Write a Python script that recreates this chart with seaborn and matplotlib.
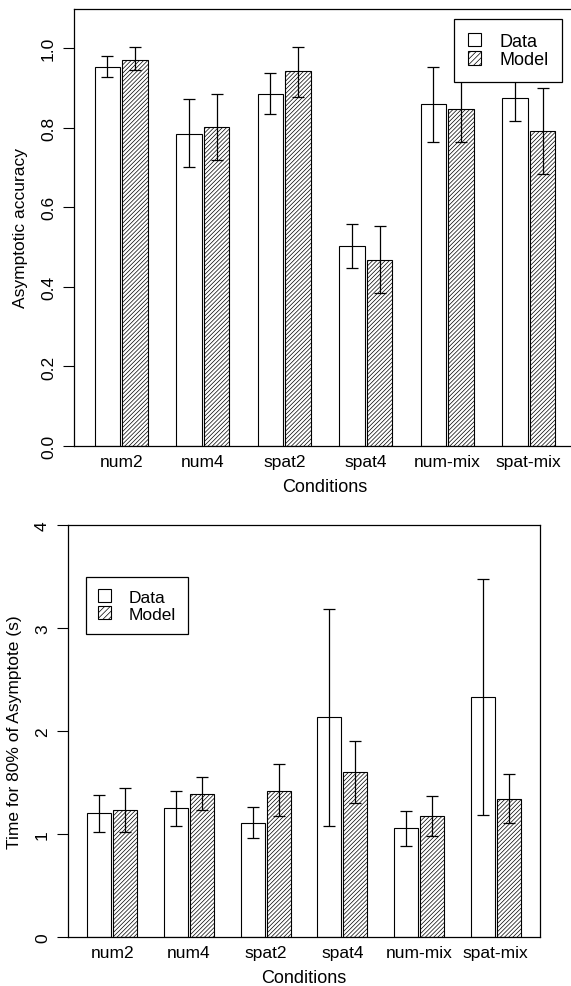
import matplotlib
matplotlib.use("Agg")
import matplotlib.pyplot as plt
import seaborn as sns
import pandas as pd
from matplotlib.patches import Patch

conditions = ["num2", "num4", "spat2", "spat4", "num-mix", "spat-mix"]

# asymptotic accuracy (top panel)
acc_data = [0.953, 0.785, 0.885, 0.503, 0.860, 0.875]
acc_data_lo = [0.928, 0.702, 0.835, 0.448, 0.765, 0.818]
acc_data_hi = [0.981, 0.873, 0.939, 0.558, 0.953, 0.928]
acc_model = [0.971, 0.803, 0.943, 0.468, 0.848, 0.792]
acc_model_lo = [0.946, 0.719, 0.878, 0.385, 0.765, 0.684]
acc_model_hi = [1.004, 0.885, 1.004, 0.553, 0.928, 0.901]

# time to 80% of asymptote (bottom panel)
t_data = [1.20, 1.25, 1.11, 2.14, 1.06, 2.33]
t_data_lo = [1.02, 1.08, 0.96, 1.08, 0.88, 1.18]
t_data_hi = [1.38, 1.42, 1.26, 3.18, 1.22, 3.48]
t_model = [1.23, 1.39, 1.42, 1.60, 1.17, 1.34]
t_model_lo = [1.02, 1.23, 1.17, 1.30, 0.98, 1.11]
t_model_hi = [1.45, 1.55, 1.68, 1.90, 1.37, 1.58]

sns.set_style("ticks")
plt.rcParams["font.family"] = ["Liberation Sans", "DejaVu Sans"]
plt.rcParams["hatch.linewidth"] = 0.5
plt.rcParams["text.color"] = "black"
plt.rcParams["axes.labelcolor"] = "black"
plt.rcParams["xtick.color"] = "black"
plt.rcParams["ytick.color"] = "black"

W, H = 571, 987
fig = plt.figure(figsize=(W / 100, H / 100), dpi=100)


def px_axes(left, top, right, bottom):
    return fig.add_axes([left / W, 1 - bottom / H, (right - left) / W, (bottom - top) / H])


def draw_panel(ax, data, data_lo, data_hi, model, model_lo, model_hi, ylim, yticks, yticklabels, ylabel):
    df = pd.DataFrame({
        "condition": conditions * 2,
        "source": ["Data"] * 6 + ["Model"] * 6,
        "value": data + model,
    })
    lo = data_lo + model_lo
    hi = data_hi + model_hi
    sns.barplot(
        data=df, x="condition", y="value", hue="source",
        palette=["white", "white"], edgecolor="black", linewidth=0.8,
        width=0.68, gap=0.08, errorbar=None, legend=False, ax=ax,
    )
    bar_conts = list(ax.containers)
    k = 0
    for ci, cont in enumerate(bar_conts):
        for bar in cont.patches:
            if ci == 1:
                bar.set_hatch("////////")
            xc = bar.get_x() + bar.get_width() / 2
            v = bar.get_height()
            ax.errorbar([xc], [v], yerr=[[v - lo[k]], [hi[k] - v]], fmt="none",
                        ecolor="black", elinewidth=0.9, capsize=4.5, capthick=0.9)
            k += 1
    ax.set_xlim(-0.58, 5.58)
    ax.set_ylim(*ylim)
    ax.set_yticks(yticks)
    ax.set_yticklabels(yticklabels, rotation=90, va="center")
    ax.tick_params(axis="y", length=8, width=0.8, labelsize=12.5, pad=5, colors="black")
    ax.tick_params(axis="x", length=0, labelsize=12.5, pad=6, colors="black")
    ax.set_xlabel("Conditions", fontsize=13, labelpad=6, color="black")
    ax.set_ylabel(ylabel, fontsize=12.5, labelpad=9, color="black")
    for s in ax.spines.values():
        s.set_linewidth(0.9)
        s.set_color("black")
        s.set_visible(True)


handles = [
    Patch(facecolor="white", edgecolor="black", linewidth=0.8, label="Data"),
    Patch(facecolor="white", edgecolor="black", linewidth=0.8, hatch="//////", label="Model"),
]

ax1 = px_axes(74, 9.5, 576, 447)
draw_panel(ax1, acc_data, acc_data_lo, acc_data_hi, acc_model, acc_model_lo, acc_model_hi,
           (0, 1.1), [0, 0.2, 0.4, 0.6, 0.8, 1.0], ["0.0", "0.2", "0.4", "0.6", "0.8", "1.0"],
           "Asymptotic accuracy")
leg1 = ax1.legend(handles=handles, loc="upper right", bbox_to_anchor=(562 / W, 1 - 20 / H),
                  bbox_transform=fig.transFigure, borderaxespad=0, fontsize=13,
                  fancybox=False, framealpha=1, edgecolor="black",
                  handlelength=0.75, handleheight=0.75, handletextpad=1.0,
                  labelspacing=0.1, borderpad=0.75)
leg1.get_frame().set_linewidth(0.9)

ax2 = px_axes(68, 526, 540, 938)
draw_panel(ax2, t_data, t_data_lo, t_data_hi, t_model, t_model_lo, t_model_hi,
           (0, 4), [0, 1, 2, 3, 4], ["0", "1", "2", "3", "4"],
           "Time for 80% of Asymptote (s)")
leg2 = ax2.legend(handles=handles, loc="upper left", bbox_to_anchor=(86 / W, 1 - 578 / H),
                  bbox_transform=fig.transFigure, borderaxespad=0, fontsize=12.5,
                  fancybox=False, framealpha=1, edgecolor="black",
                  handlelength=0.75, handleheight=0.75, handletextpad=1.0,
                  labelspacing=0.1, borderpad=0.7)
leg2.get_frame().set_linewidth(0.9)

fig.savefig("out.png", dpi=100, facecolor="white")
